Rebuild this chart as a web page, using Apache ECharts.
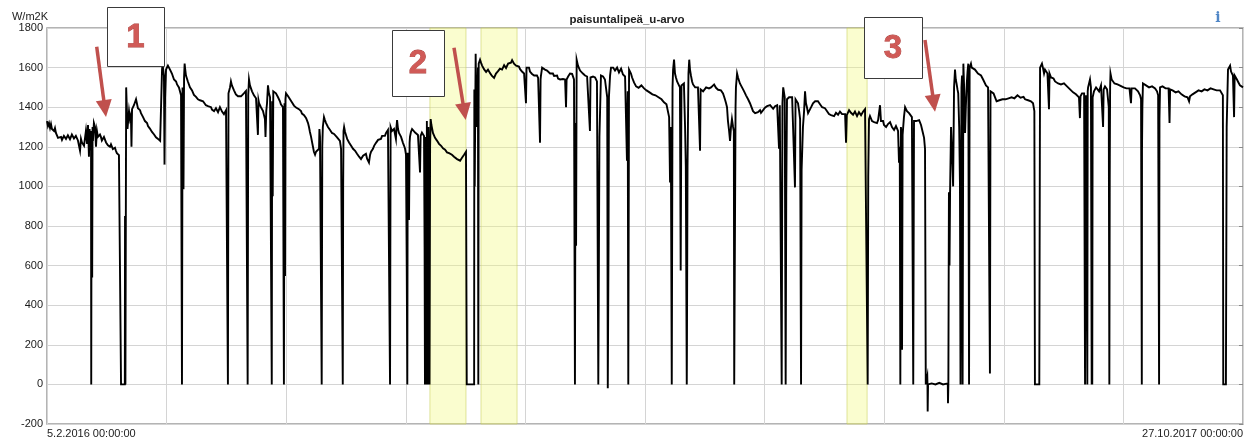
<!DOCTYPE html>
<html><head><meta charset="utf-8">
<script src="https://cdn.jsdelivr.net/npm/echarts@6/dist/echarts.min.js"></script>
<style>html,body{margin:0;padding:0;background:#fff}#c{width:1254px;height:441px}</style>
</head><body><div id="c"></div>
<script>
// ---- data ----
const chartTitle = 'paisuntalipeä_u-arvo';
const unitLabel = 'W/m2K';
const xTickLabels = ['5.2.2016 00:00:00', '27.10.2017 00:00:00'];
const totalDays = 630;          // 5.2.2016 -> 27.10.2017
const dayGridStep = 63;
const yMin = -200, yMax = 1800, yStep = 200;
const highlightBands = [[201.7, 220.7], [228.6, 247.6], [421.4, 432.0]]; // in days
const annotationNumbers = ['1', '2', '3'];
// [day since 5.2.2016, U-value W/m2K]
const uSeries = [
[0,1330],[0.5,1305],[1.05,1320],[1.6,1295],[2.1,1315],[2.6,1290],[3.2,1300],[3.7,1280],[4.2,1295],[4.7,1270],[5.3,1265],[5.8,1245],[6.3,1240],[6.8,1255],[7.4,1250],[7.9,1235],[8.4,1235],[8.9,1255],[9.5,1255],[10,1240],[10.5,1240],[11,1258],[11.6,1250],[12.1,1238],[12.6,1245],[13.1,1262],[13.7,1260],[14.2,1242],[14.7,1240],[15.2,1255],[15.8,1250],[16.3,1232],[16.9,1235],[17.4,1180],[17.9,1240],[18.4,1222],[19,1225],[19.5,1205],[20,1200],[20.5,1280],[21.1,1215],[21.6,1310],[22.1,1150],[22.4,1290],[22.7,1260],[23,1200],[23.2,1180],[23.3,0],[23.4,0],[23.5,1280],[23.8,540],[24.0,1300],[24.2,1230],[24.7,1320],[25.3,1300],[25.8,1200],[26.3,1280],[26.8,1250],[27.4,1240],[27.9,1262],[28.4,1250],[28.9,1232],[29.5,1235],[30,1250],[30.6,1245],[31.1,1222],[31.6,1225],[32.1,1208],[32.7,1215],[33.2,1200],[33.7,1212],[34.2,1205],[34.7,1188],[35.3,1190],[35.8,1195],[36.3,1180],[36.8,1168],[37.4,1170],[37.9,1158],[38.5,1160],[38.8,1155],[39.0,0],[41.0,0],[41.1,850],[41.3,0],[41.6,0],[41.7,1500],[42.1,1500],[42.4,1290],[42.7,1290],[43.2,1380],[43.7,1340],[44.2,1360],[44.5,1200],[44.8,1390],[45.3,1390],[45.8,1410],[46.4,1400],[46.9,1440],[47.4,1430],[47.9,1395],[48.5,1390],[49,1385],[49.5,1370],[50,1360],[50.6,1350],[51.1,1345],[51.6,1330],[52.1,1320],[52.7,1320],[53.2,1305],[53.7,1300],[54.2,1292],[54.8,1290],[55.3,1275],[55.8,1270],[56.4,1262],[56.9,1260],[57.4,1248],[57.9,1250],[58.5,1240],[59,1238],[59.6,1230],[60.1,1230],[60.6,1590],[60.9,1620],[61.1,1600],[61.6,1560],[61.9,1110],[62.2,1450],[62.7,1590],[63.2,1600],[63.7,1610],[64.2,1620],[64.8,1590],[65.3,1585],[65.8,1570],[66.4,1560],[66.9,1540],[67.4,1545],[68,1530],[68.5,1515],[69,1510],[69.5,1500],[70.1,1490],[70.6,1460],[70.9,1450],[71.1,0],[71.4,1500],[71.9,985],[72.2,1550],[72.5,1620],[72.7,1600],[73.2,1560],[73.7,1550],[74.2,1530],[74.8,1520],[75.3,1500],[75.9,1490],[76.4,1485],[76.9,1480],[77.4,1462],[78,1460],[78.5,1452],[79,1455],[79.5,1440],[80.1,1445],[80.6,1435],[81.1,1440],[81.6,1428],[82.2,1430],[82.7,1420],[83.2,1425],[83.7,1410],[84.3,1420],[84.8,1405],[85.3,1410],[85.8,1395],[86.4,1400],[86.9,1388],[87.4,1395],[88,1380],[88.5,1385],[89,1395],[89.5,1390],[90.1,1375],[90.6,1380],[91.1,1400],[91.7,1395],[92.2,1378],[92.7,1380],[93.2,1365],[93.8,1370],[94.3,1385],[94.8,1390],[95.1,1380],[95.3,0],[95.6,1470],[95.9,1470],[96.4,1500],[96.9,1530],[97.4,1510],[98,1500],[98.5,1485],[99,1480],[99.5,1465],[100.1,1470],[100.6,1455],[101.1,1460],[101.6,1450],[102.2,1455],[102.7,1462],[103.2,1460],[103.7,1470],[104.3,1475],[104.8,1482],[105.4,1480],[105.7,0],[106.0,1460],[106.4,1540],[106.9,1510],[107.5,1500],[108,1480],[108.5,1470],[109,1460],[109.6,1455],[110.1,1445],[110.6,1440],[111.1,1260],[111.4,1435],[111.7,1420],[112.2,1410],[112.7,1400],[113.2,1390],[113.8,1380],[114.3,1360],[114.8,1340],[115.1,1250],[115.5,1380],[115.9,1420],[116.4,1510],[116.9,1470],[117.5,1450],[118,1440],[118.4,0],[118.6,1430],[118.9,950],[119.2,1480],[119.6,1490],[120.1,1475],[120.6,1470],[121.2,1460],[121.7,1450],[122.2,1440],[122.7,1430],[123.2,1415],[123.8,1410],[124.3,1400],[124.8,0],[125.1,1420],[125.4,548],[125.6,1440],[125.9,1470],[126.4,1460],[127,1455],[127.5,1450],[128,1440],[128.5,1430],[129,1425],[129.6,1420],[130.1,1408],[130.6,1405],[131.2,1398],[131.7,1400],[132.2,1390],[132.7,1390],[133.3,1382],[133.8,1380],[134.3,1368],[134.9,1370],[135.4,1360],[135.9,1360],[136.5,1345],[137,1340],[137.5,1320],[138,1300],[138.5,1275],[139.1,1250],[139.6,1225],[140.1,1200],[140.6,1175],[141.2,1160],[141.7,1175],[142.2,1180],[142.7,1170],[143.3,1190],[143.5,1290],[143.8,1250],[144.3,1250],[144.7,0],[145.0,1200],[145.3,1300],[145.9,1350],[146.4,1335],[147,1320],[147.5,1310],[148,1300],[148.6,1290],[149.1,1285],[149.6,1275],[150.1,1270],[150.7,1268],[151.2,1265],[151.7,1258],[152.2,1255],[152.8,1248],[153.3,1250],[153.8,1240],[154.3,1230],[154.9,1190],[155.4,1200],[155.8,0],[156.0,1000],[156.2,1280],[156.5,1300],[157,1275],[157.5,1260],[158.1,1240],[158.6,1230],[159.1,1222],[159.6,1215],[160.2,1205],[160.7,1200],[161.2,1190],[161.7,1195],[162.3,1180],[162.8,1175],[163.3,1165],[163.8,1160],[164.4,1150],[164.9,1150],[165.4,1138],[165.9,1140],[166.5,1155],[167,1150],[167.5,1165],[168,1165],[168.6,1140],[169.1,1135],[169.6,1120],[170.2,1160],[170.7,1175],[171.2,1185],[171.7,1190],[172.3,1205],[172.8,1200],[173.3,1220],[173.8,1215],[174.4,1235],[174.9,1230],[175.4,1245],[175.9,1240],[176.5,1255],[177,1245],[177.5,1260],[178,1255],[178.6,1270],[179.1,1265],[179.6,1285],[180.2,1280],[180.5,1290],[180.7,0],[181.0,1300],[181.2,1310],[181.7,1280],[182.3,1270],[182.8,1290],[183.3,1285],[183.8,1240],[184.1,1300],[184.4,1335],[184.9,1290],[185.4,1270],[185.9,1260],[186.5,1250],[187,1235],[187.5,1220],[188.1,1205],[188.6,1190],[189.1,1160],[189.5,590],[189.8,0],[190.0,1170],[190.2,1180],[190.7,830],[191.0,1220],[191.2,1250],[191.7,1275],[192.3,1290],[192.8,1285],[193.3,1280],[193.9,1272],[194.4,1270],[194.9,1262],[195.4,1260],[196,1250],[196.5,1070],[196.8,1255],[197,1260],[197.5,1272],[198.1,1270],[198.6,1255],[198.9,690],[199.1,0],[199.3,1250],[199.5,0],[199.7,690],[199.9,0],[200.1,1330],[200.3,0],[200.5,700],[200.7,0],[200.9,1300],[201.1,0],[201.3,690],[201.5,0],[201.8,1200],[202.1,1340],[202.5,1310],[202.8,1300],[203.3,1270],[203.9,1260],[204.4,1245],[204.9,1240],[205.5,1230],[206,1220],[206.5,1215],[207,1210],[207.6,1205],[208.1,1200],[208.6,1192],[209.1,1190],[209.7,1185],[210.2,1180],[210.7,1172],[211.2,1170],[211.8,1168],[212.3,1165],[212.8,1158],[213.3,1160],[213.9,1150],[214.4,1150],[214.9,1142],[215.4,1140],[216,1138],[216.5,1135],[217,1128],[217.6,1130],[218.1,1140],[218.6,1145],[219.1,1152],[219.7,1160],[220.2,1168],[220.7,1175],[221.0,1170],[221.1,0],[225.0,0],[225.1,1490],[225.3,1000],[225.5,1000],[225.8,1670],[226.0,1500],[226.5,1300],[227.0,1600],[227.2,0],[227.4,1620],[227.6,1620],[228.1,1640],[228.6,1625],[229.2,1610],[229.7,1600],[230.2,1592],[230.7,1590],[231.3,1578],[231.8,1580],[232.3,1590],[232.8,1585],[233.4,1572],[233.9,1570],[234.4,1558],[234.9,1560],[235.5,1548],[236,1555],[236.5,1570],[237,1565],[237.6,1582],[238.1,1580],[238.6,1595],[239.2,1600],[239.7,1590],[240.2,1595],[240.8,1612],[241.3,1610],[241.8,1598],[242.3,1605],[242.9,1620],[243.4,1615],[243.9,1628],[244.4,1625],[245,1638],[245.5,1630],[246,1620],[246.5,1620],[247.1,1610],[247.6,1615],[248.1,1600],[248.6,1605],[249.2,1592],[249.7,1595],[250.2,1580],[250.7,1585],[251.3,1570],[251.8,1575],[252.3,1420],[252.6,1600],[252.8,1590],[253.4,1605],[253.9,1600],[254.4,1580],[255,1575],[255.5,1568],[256,1570],[256.6,1560],[257.1,1565],[257.6,1555],[258.1,1560],[258.7,1548],[259.2,1550],[259.7,1220],[260.0,1540],[260.2,1560],[260.8,1600],[261.3,1600],[261.8,1590],[262.3,1590],[262.9,1580],[263.4,1585],[263.9,1575],[264.4,1580],[265,1570],[265.5,1575],[266,1562],[266.5,1570],[267.1,1558],[267.6,1565],[268.1,1552],[268.7,1560],[269.2,1545],[269.7,1550],[270.3,1540],[270.8,1548],[271.3,1538],[271.8,1542],[272.4,1535],[272.9,1540],[273.4,1400],[273.7,1540],[273.9,1545],[274.5,1555],[275,1565],[275.5,1570],[276,1575],[276.6,1568],[277.1,1570],[277.6,1540],[278.1,0],[278.4,1320],[278.7,700],[279.0,1640],[279.2,1640],[279.7,1610],[280.2,1600],[280.8,1585],[281.3,1580],[281.8,1575],[282.3,1570],[282.9,1565],[283.4,1560],[284,1558],[284.5,1555],[285,1548],[285.5,1550],[286,1280],[286.3,1550],[286.6,1560],[287.1,1552],[287.6,1555],[288.2,1545],[288.7,1550],[289.2,1540],[289.7,1530],[290.1,1520],[290.4,0],[290.7,600],[291.0,1250],[291.3,1250],[291.8,1560],[292.3,1560],[292.9,1555],[293.4,1545],[293.9,1540],[294.5,1530],[295.1,1450],[295.4,-20],[295.8,720],[296.0,1450],[296.6,1560],[297.1,1600],[297.6,1610],[298.2,1600],[298.7,1600],[299.2,1585],[299.7,1590],[300.3,1600],[300.8,1595],[301.3,1575],[301.8,1580],[302.4,1595],[302.9,1590],[303.4,1565],[303.9,1570],[304.5,1555],[305,1560],[305.5,1130],[305.9,1480],[306.2,0],[306.6,1590],[307.1,1580],[307.6,1570],[308.2,1550],[308.7,1540],[309.2,1525],[309.7,1520],[310.3,1505],[310.8,1510],[311.6,1498],[312.4,1500],[313.1,1510],[313.9,1505],[314.5,1495],[315,1500],[315.8,1485],[316.6,1490],[317.4,1475],[318.2,1480],[318.9,1465],[319.7,1470],[320.5,1460],[321.3,1465],[322.1,1450],[322.9,1455],[323.7,1440],[324.5,1440],[325,1425],[325.6,1430],[326.3,1415],[327.1,1410],[327.7,1350],[328.2,1020],[328.6,1300],[329.1,0],[329.5,1500],[329.8,1590],[330.3,1640],[330.8,1570],[331.3,1550],[331.9,1530],[332.4,1525],[332.9,1520],[333.4,1500],[333.8,575],[334.2,1510],[334.6,1500],[335,1500],[335.5,1520],[336.1,1300],[336.5,1100],[337.0,0],[337.1,210],[337.4,1100],[337.9,1570],[338.3,1640],[338.7,1590],[339.2,1560],[339.8,1530],[340.3,1515],[340.8,1510],[341.4,1500],[341.9,1505],[342.4,1495],[342.9,1500],[343.5,1490],[344,1180],[344.3,1490],[344.5,1490],[345,1480],[345.6,1480],[346.1,1488],[346.6,1490],[347.2,1500],[347.7,1500],[348.2,1492],[348.7,1495],[349.3,1505],[349.8,1500],[350.3,1508],[350.8,1505],[351.4,1515],[351.9,1510],[352.4,1498],[352.9,1500],[353.5,1488],[354,1490],[354.5,1480],[355,1485],[355.6,1475],[356.1,1470],[356.6,1455],[357.1,1440],[357.7,1420],[358.2,1400],[358.7,1330],[359.3,1280],[359.8,1230],[360.3,1300],[360.8,1340],[361.4,1300],[361.8,1280],[362.0,0],[362.4,0],[362.7,1400],[362.9,1500],[363.5,1570],[364,1550],[364.5,1535],[365,1520],[365.6,1515],[366.1,1500],[366.6,1490],[367.2,1480],[367.7,1470],[368.2,1460],[368.8,1450],[369.3,1440],[369.8,1430],[370.3,1420],[370.9,1405],[371.4,1395],[371.9,1380],[372.4,1385],[373,1370],[373.5,1380],[374,1365],[374.5,1375],[375.1,1370],[375.6,1385],[376.1,1372],[376.6,1370],[377.2,1385],[377.7,1380],[378.2,1398],[378.7,1395],[379.3,1405],[379.8,1400],[380.3,1412],[380.9,1410],[381.4,1400],[381.9,1405],[382.5,1392],[383,1395],[383.5,1405],[384,1400],[384.6,1410],[385.1,1410],[385.6,1190],[386.0,1410],[386.5,1400],[387.0,0],[387.4,1420],[387.8,1500],[388.2,1500],[388.6,1450],[389.1,0],[389.4,950],[389.8,1440],[390.3,1445],[390.9,1450],[391.4,1455],[391.9,1460],[392.5,1450],[393,1445],[393.5,1440],[394,995],[394.3,1440],[394.6,1450],[395.1,1430],[395.6,1420],[396.2,1380],[396.7,1340],[397.2,0],[397.5,1085],[397.7,1085],[398.2,1300],[398.8,1380],[399.3,1480],[399.8,1420],[400.3,1400],[400.9,1370],[401.4,1360],[401.9,1380],[402.5,1400],[403,1395],[403.5,1420],[404,1410],[404.6,1430],[405.1,1420],[405.6,1440],[406.1,1430],[406.7,1420],[407.2,1415],[407.7,1410],[408.3,1400],[408.8,1400],[409.3,1395],[409.8,1395],[410.4,1385],[410.9,1380],[411.4,1370],[411.9,1365],[412.5,1358],[413,1360],[413.5,1370],[414,1365],[414.6,1355],[415.1,1360],[415.6,1372],[416.1,1370],[416.7,1362],[417.2,1365],[417.7,1378],[418.3,1375],[418.8,1365],[419.3,1370],[419.8,1362],[420.4,1365],[420.9,1220],[421.3,1360],[421.9,1370],[422.5,1385],[423,1380],[423.5,1372],[424,1375],[424.6,1362],[425.1,1365],[425.6,1378],[426.2,1370],[426.7,1355],[427.2,1360],[427.7,1375],[428.3,1370],[428.8,1360],[429.3,1365],[429.9,1378],[430.4,1375],[430.9,1390],[431.4,1385],[431.9,1380],[432.3,0],[432.6,1050],[433,1340],[433.5,1355],[434.1,1350],[434.6,1330],[435.1,1340],[435.7,1325],[436.2,1330],[436.7,1315],[437.2,1320],[437.8,1335],[438.3,1330],[438.8,1410],[439.3,1330],[439.9,1325],[440.4,1330],[440.9,1310],[441.4,1320],[442,1300],[442.5,1300],[443,1315],[443.5,1310],[444.1,1325],[444.6,1320],[445.1,1300],[445.6,1300],[446.2,1285],[446.7,1290],[447.2,1305],[447.7,1300],[448.3,1280],[448.8,1120],[449.2,1200],[449.5,0],[449.8,1300],[450.2,1260],[450.4,175],[450.7,1260],[451.4,1350],[452,1400],[452.5,1390],[453,1380],[453.6,1375],[454.1,1370],[454.6,1365],[455.1,1360],[455.6,1350],[456.3,0],[456.7,1330],[457.2,1340],[457.8,1330],[458.3,1325],[458.8,1320],[459.4,1335],[459.9,1330],[460.4,1310],[460.9,1300],[461.4,1270],[462,1245],[462.5,1190],[462.9,0],[463.5,0],[463.7,40],[463.8,0],[463.9,-137],[464.1,0],[466,5],[468,0],[470,8],[472,0],[474.5,5],[474.6,-95],[474.8,0],[475.1,970],[475.4,600],[475.7,970],[476.2,1300],[476.6,1300],[477,1100],[477.3,1000],[477.8,1500],[478.3,1590],[478.7,1540],[479.1,1520],[479.6,1490],[480,1470],[480.5,1300],[480.9,1020],[481.2,0],[481.4,0],[481.7,1500],[482.0,1560],[482.3,0],[482.5,0],[482.7,1620],[483.1,1500],[483.6,1270],[484,1400],[484.5,1520],[484.9,1580],[485.3,1620],[485.7,0],[486.0,1600],[486.2,1600],[486.7,1620],[487.1,1600],[487.6,1595],[488,1610],[488.8,1590],[489.6,1580],[490.4,1570],[491.2,1575],[492,1560],[492.6,1555],[493.1,1540],[493.9,1545],[494.6,1510],[495.2,1505],[495.7,1500],[496.2,1495],[496.7,55],[497.0,1480],[497.4,1485],[497.8,1490],[498.6,1470],[499.4,1450],[500.2,1430],[501,1420],[501.7,1435],[502.5,1430],[503.3,1440],[504.1,1445],[504.9,1440],[505.7,1450],[506.5,1445],[507.3,1440],[508.1,1450],[508.9,1455],[509.6,1445],[510.4,1450],[511.2,1460],[512,1455],[512.8,1448],[513.6,1445],[514.4,1452],[515.2,1440],[516,1445],[516.8,1435],[517.5,1440],[518.3,1430],[518.9,1425],[519.4,1420],[520.1,1380],[520.4,0],[522.7,0],[523.1,1600],[523.6,1610],[524.1,1620],[524.6,1600],[525.2,1570],[525.7,1590],[526.2,1580],[527.0,1570],[527.8,1390],[528.1,1570],[528.4,1560],[528.9,1550],[529.4,1540],[530.2,1545],[531,1530],[531.8,1535],[532.6,1520],[533.3,1525],[534.1,1515],[534.9,1520],[535.7,1520],[536.5,1512],[537.3,1505],[538.1,1500],[538.9,1490],[539.7,1485],[540.5,1475],[541.2,1470],[542,1465],[542.8,1458],[543.6,1450],[544.1,1345],[544.4,1455],[544.7,1460],[545.2,1470],[545.7,1480],[546.3,1470],[546.8,0],[547.0,890],[547.3,1460],[547.6,1450],[548.0,0],[548.2,1480],[548.4,1500],[548.9,1520],[549.4,1540],[549.9,1500],[550.3,0],[550.4,175],[550.6,0],[550.8,1450],[551,1460],[551.5,1480],[552,1490],[552.6,1500],[553.1,1500],[553.6,1490],[554.2,1480],[554.7,1495],[555.2,1510],[555.7,1500],[556.3,1300],[556.6,1490],[556.8,1500],[557.3,1505],[557.8,1510],[558.4,1490],[558.9,1480],[559.3,1400],[559.6,0],[559.8,1035],[560.0,1500],[560.2,1570],[560.8,1540],[561.5,1530],[562.3,1520],[563.1,1520],[563.9,1515],[564.7,1510],[565.5,1508],[566.3,1505],[567.1,1500],[567.9,1500],[568.6,1495],[569.4,1490],[570.2,1495],[571,1420],[571.3,1495],[571.5,1500],[572.3,1495],[573.1,1495],[573.9,1485],[574.7,1480],[575.2,1470],[575.8,1460],[576.3,1440],[576.7,0],[576.8,1180],[577.0,1400],[577.3,1520],[578.1,1515],[578.9,1510],[579.7,1500],[580.5,1500],[581.3,1505],[582.1,1505],[582.9,1500],[583.7,1495],[584.2,1490],[584.7,1480],[585.3,1460],[585.8,0],[586.0,1340],[586.3,1500],[586.8,1510],[587.6,1505],[588.4,1500],[589.2,1495],[590,1490],[590.8,1495],[591.3,1320],[591.6,1490],[592.1,1490],[592.9,1485],[593.7,1480],[594.5,1475],[595.2,1470],[596,1480],[596.8,1475],[597.6,1465],[598.4,1460],[599.2,1455],[600,1455],[600.8,1450],[601.6,1430],[602.1,1455],[602.6,1460],[603.4,1465],[604.2,1470],[605,1475],[605.8,1480],[606.6,1485],[607.4,1490],[608.2,1480],[608.9,1485],[609.7,1490],[610.5,1495],[611.3,1485],[612.1,1490],[612.9,1495],[613.7,1485],[614.5,1490],[615.3,1490],[616.1,1485],[616.8,1490],[617.9,1485],[618.9,1480],[619.4,1460],[619.6,0],[621.0,0],[621.4,1300],[621.6,1300],[622.1,1590],[622.6,1600],[623.2,1610],[623.7,1580],[624.2,1570],[624.7,1560],[625.3,1350],[625.6,1560],[625.8,1560],[626.3,1550],[626.8,1540],[627.6,1525],[628.4,1510],[629.2,1505],[630,1500]
];

// ---- chart ----
const chart = echarts.init(document.getElementById('c'), null, { renderer: 'canvas' });
const RED = '#c0504d';
function arrow(x1, y1, x2, y2) {
  const dx = x2 - x1, dy = y2 - y1, L = Math.hypot(dx, dy);
  const ux = dx / L, uy = dy / L, px = -uy, py = ux;
  const hl = 17, hw = 8;
  const bx = x2 - ux * hl, by = y2 - uy * hl;
  return [
    { type: 'line', z: 100, shape: { x1: x1, y1: y1, x2: bx + ux * 2, y2: by + uy * 2 }, style: { stroke: RED, lineWidth: 3.5 } },
    { type: 'polygon', z: 100, shape: { points: [[x2, y2], [bx + px * hw, by + py * hw], [bx - px * hw, by - py * hw]] }, style: { fill: RED } }
  ];
}
function box(x, y, w, h, t) {
  return [
    { type: 'rect', z: 100, shape: { x: x + 0.5, y: y + 0.5, width: w, height: h }, style: { fill: '#fff', stroke: '#3a3a3a', lineWidth: 1 } },
    { type: 'text', z: 101, x: x + w / 2, y: y + h / 2 + 1,
      style: { text: t, fill: '#d05a57', stroke: '#a8403d', lineWidth: 0.8, font: 'bold 33px "Liberation Sans", Arial, sans-serif',
               align: 'center', verticalAlign: 'middle', textAlign: 'center', textVerticalAlign: 'middle' } }
  ];
}
const graphics = [].concat(
  box(107, 7, 57, 59, annotationNumbers[0]),
  box(392, 30, 52, 66, annotationNumbers[1]),
  box(864, 17, 58, 61, annotationNumbers[2]),
  arrow(96.7, 46.7, 106, 117),
  arrow(454, 47.7, 465.7, 120),
  arrow(925, 40, 935, 111.7),
  [{ type: 'text', z: 100, x: 1218, y: 18,
     style: { text: 'i', fill: '#4f86c6', font: 'bold 14px "DejaVu Serif", "Liberation Serif", serif',
              align: 'center', verticalAlign: 'middle', textAlign: 'center', textVerticalAlign: 'middle' } }]
);

chart.setOption({
  animation: false,
  backgroundColor: '#fff',
  title: {
    text: chartTitle, left: 'center', top: 9,
    textStyle: { fontSize: 11.5, fontWeight: 'bold', color: '#222', fontFamily: '"Liberation Sans", Arial, sans-serif' }
  },
  grid: { left: 47, right: 11, top: 28, bottom: 17, show: true, borderColor: '#9c9c9c', borderWidth: 1.5, backgroundColor: 'transparent' },
  xAxis: {
    type: 'value', min: 0, max: totalDays, interval: dayGridStep,
    axisLine: { show: false }, axisTick: { show: false },
    splitLine: { show: true, lineStyle: { color: '#d4d4d4', width: 1 } },
    axisLabel: {
      show: true, margin: 4, color: '#222', fontSize: 11, fontFamily: '"Liberation Sans", Arial, sans-serif',
      showMinLabel: true, showMaxLabel: true, alignMinLabel: 'left', alignMaxLabel: 'right',
      formatter: function (v) { return v === 0 ? xTickLabels[0] : (v === totalDays ? xTickLabels[1] : ''); }
    }
  },
  yAxis: [{
    type: 'value', min: yMin, max: yMax, interval: yStep,
    name: unitLabel, nameLocation: 'end', nameGap: 11,
    nameTextStyle: { align: 'right', verticalAlign: 'middle', color: '#222', fontSize: 11, fontFamily: '"Liberation Sans", Arial, sans-serif', padding: [0, -1, 0, 0] },
    axisLine: { show: false }, axisTick: { show: false },
    splitLine: { show: true, lineStyle: { color: '#d4d4d4', width: 1 } },
    axisLabel: { color: '#1a1a1a', fontSize: 11, margin: 4, fontFamily: '"Liberation Sans", Arial, sans-serif',
                 formatter: function (v) { return String(v); } }
  }, {
    type: 'value', min: yMin, max: yMax, interval: yStep, position: 'right',
    axisLine: { show: false }, axisLabel: { show: false }, splitLine: { show: false },
    axisTick: { show: true, inside: true, length: 4, lineStyle: { color: '#8a8a8a', width: 1 } }
  }],
  series: [{
    type: 'line', name: 'bands', data: [], z: 1, silent: true,
    markArea: {
      silent: true,
      itemStyle: { color: 'rgba(241,249,130,0.38)', borderColor: 'rgba(200,205,90,0.55)', borderWidth: 1 },
      data: highlightBands.map(function (b) { return [{ xAxis: b[0] }, { xAxis: b[1] }]; })
    }
  }, {
    type: 'line', name: chartTitle, data: uSeries, z: 3,
    showSymbol: false, symbol: 'none', sampling: null, clip: true,
    lineStyle: { color: '#000', width: 1.9, join: 'miter' }
  }],
  graphic: graphics
});
</script>
</body></html>
